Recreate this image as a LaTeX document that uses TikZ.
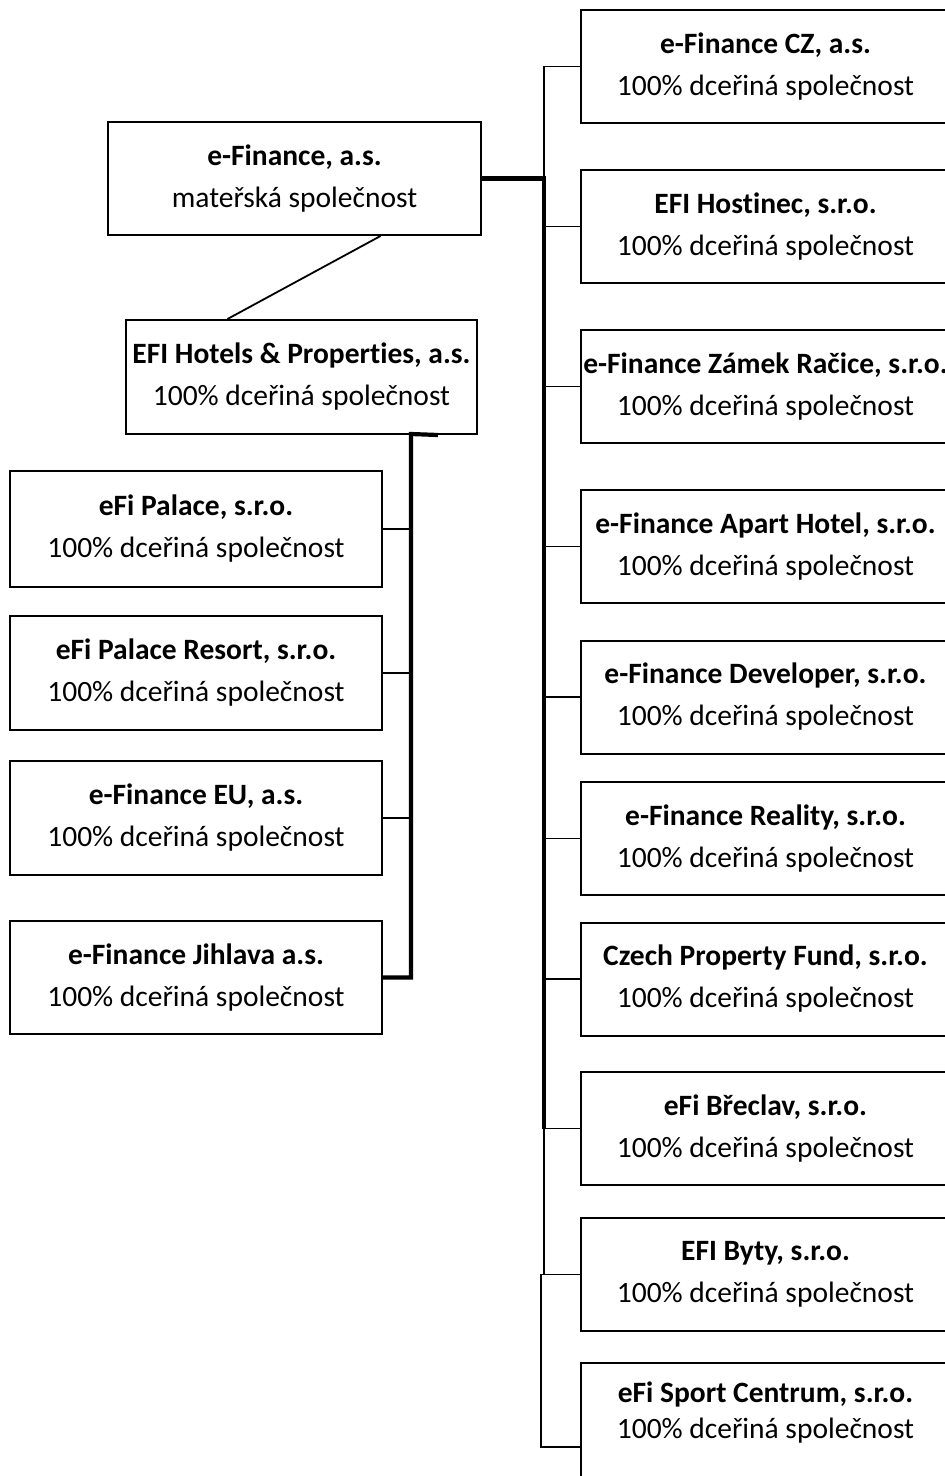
\documentclass[tikz,border=0pt]{standalone}
\usepackage{fontspec}
\setmainfont{Carlito}[Ligatures=NoCommon]
\usetikzlibrary{positioning,calc}

\begin{document}
\begin{tikzpicture}[
  x=1pt, y=-1pt,
  every node/.style={font=\fontsize{29.5}{42}\selectfont, align=center, inner sep=0pt},
  firma/.style={draw, line width=2pt, minimum height=113pt},
  pravy/.style={firma, minimum width=369pt},
  levy/.style={firma, minimum width=372pt},
  spoj/.style={line width=1.8pt},
  kmen/.style={line width=4.2pt}
]
  \useasboundingbox (0,0) rectangle (945,1476);

  % --- Mateřská společnost ---
  \node (parent) [firma, minimum width=373pt] at (294.5,178.5)
    {\textbf{e-Finance, a.s.}\\ mateřská společnost};
  \node (hotels) [firma, minimum width=351pt, minimum height=114pt] at (301.5,377)
    {\textbf{EFI Hotels \& Properties, a.s.}\\ 100\% dceřiná společnost};

  % --- Pravý sloupec ---
  \node (cz)       [pravy] at (765.5,66.5)  {\textbf{e-Finance CZ, a.s.}\\ 100\% dceřiná společnost};
  \node (hostinec) [pravy] at (765.5,226.5) {\textbf{EFI Hostinec, s.r.o.}\\ 100\% dceřiná společnost};
  \node (racice)   [pravy] at (765.5,386.5) {\textbf{e-Finance Zámek Račice, s.r.o.}\\ 100\% dceřiná společnost};
  \node (apart)    [pravy] at (765.5,546.5) {\textbf{e-Finance Apart Hotel, s.r.o.}\\ 100\% dceřiná společnost};
  \node (devel)    [pravy] at (765.5,697)   {\textbf{e-Finance Developer, s.r.o.}\\ 100\% dceřiná společnost};
  \node (reality)  [pravy] at (765.5,838.5) {\textbf{e-Finance Reality, s.r.o.}\\ 100\% dceřiná společnost};
  \node (cpf)      [pravy] at (765.5,979)   {\textbf{Czech Property Fund, s.r.o.}\\ 100\% dceřiná společnost};
  \node (breclav)  [pravy] at (765.5,1128.5){\textbf{eFi Břeclav, s.r.o.}\\ 100\% dceřiná společnost};
  \node (byty)     [pravy] at (765.5,1274.5){\textbf{EFI Byty, s.r.o.}\\ 100\% dceřiná společnost};
  \node (sport)    [pravy, minimum height=168pt] at (765.5,1447)
    {\textbf{eFi Sport Centrum, s.r.o.}\\[-6pt] 100\% dceřiná společnost\\[32pt]\mbox{}};

  % --- Levý sloupec ---
  \node (palace)  [levy, minimum height=116pt] at (196,529)   {\textbf{eFi Palace, s.r.o.}\\ 100\% dceřiná společnost};
  \node (resort)  [levy, minimum height=114pt] at (196,673)   {\textbf{eFi Palace Resort, s.r.o.}\\ 100\% dceřiná společnost};
  \node (eu)      [levy, minimum height=114pt] at (196,818)   {\textbf{e-Finance EU, a.s.}\\ 100\% dceřiná společnost};
  \node (jihlava) [levy, minimum height=113pt] at (196,977.5) {\textbf{e-Finance Jihlava a.s.}\\ 100\% dceřiná společnost};

  % Spojnice
  \coordinate (kmenP) at (544,178.5);
  \coordinate (kmenH) at (411,434);

  \draw[spoj] ([xshift=86pt]parent.south) -- ([xshift=-74pt]hotels.north);

  \draw[kmen] (parent.east) -- (kmenP) -- (kmenP |- reality.west);
  \draw[line width=3.2pt] (kmenP |- reality.west) -- (kmenP |- breclav.west);
  \draw[spoj] (kmenP) |- (cz.west);
  \draw[spoj] (kmenP |- breclav.west) -- (kmenP |- byty.west) -- ++(-3,0) |- (sport.west);
  \foreach \n in {hostinec,racice,apart,devel,reality,cpf,breclav,byty}
    \draw[spoj] (kmenP |- \n.west) -- (\n.west);

  \draw[kmen] ([xshift=-40pt]hotels.south east) -- (kmenH) -- (kmenH |- jihlava.east) -- (jihlava.east);
  \foreach \n in {palace,resort,eu}
    \draw[spoj] (kmenH |- \n.east) -- (\n.east);
\end{tikzpicture}
\end{document}
